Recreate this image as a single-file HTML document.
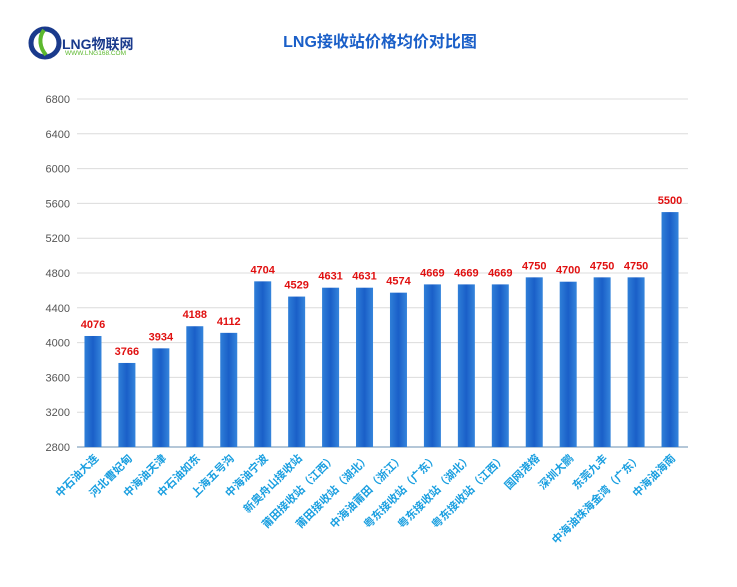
<!DOCTYPE html>
<html><head><meta charset="utf-8"><style>
body{margin:0;background:#fff;font-family:"Liberation Sans","Noto Sans CJK SC",sans-serif}
</style></head><body>
<svg width="737" height="587" xmlns="http://www.w3.org/2000/svg" style="display:block">
<defs>
<linearGradient id="bg" x1="0" x2="1" y1="0" y2="0">
<stop offset="0" stop-color="#2f7fd8"/><stop offset="0.5" stop-color="#1a5fc8"/><stop offset="1" stop-color="#3585dc"/>
</linearGradient>
</defs>
<g>
<circle cx="45" cy="43" r="14" fill="none" stroke="#1a3a8c" stroke-width="5"/>
<path d="M44 30 C38 38 40 48 46 55" stroke="#5cb82e" stroke-width="4" fill="none"/>
<text x="62" y="49" font-size="14" font-weight="bold" fill="#1a3a8c">LNG物联网</text>
<text x="65" y="55" font-size="6.5" fill="#5cb82e">WWW.LNG168.COM</text>
</g>
<text x="380" y="47" text-anchor="middle" font-size="16" font-weight="bold" fill="#1a5fc8">LNG接收站价格均价对比图</text>
<g id="grid"></g><g id="bars"></g><g id="xl"></g>
</svg>
<script>
const categories=["中石油大连","河北曹妃甸","中海油天津","中石油如东","上海五号沟","中海油宁波","新奥舟山接收站","莆田接收站（江西）","莆田接收站（湖北）","中海油莆田（浙江）","粤东接收站（广东）","粤东接收站（湖北）","粤东接收站（江西）","国网港榕","深圳大鹏","东莞九丰","中海油珠海金湾（广东）","中海油海南"];
const values=[4076,3766,3934,4188,4112,4704,4529,4631,4631,4574,4669,4669,4669,4750,4700,4750,4750,5500];
const ticks=[2800,3200,3600,4000,4400,4800,5200,5600,6000,6400,6800];
const NS="http://www.w3.org/2000/svg";
const y0=447,y1=99,vmin=2800,vmax=6800,xL=77,xR=688;
const y=v=>y0-(v-vmin)/(vmax-vmin)*(y0-y1);
const step=(xR-xL)/categories.length;
const x=i=>xL+step*(i+0.5)-1;
function mk(t,a,p){const e=document.createElementNS(NS,t);for(const k in a)e.setAttribute(k,a[k]);p.appendChild(e);return e;}
const g=document.getElementById('grid');
ticks.forEach(t=>{
 const l=mk('line',{x1:xL,x2:xR,y1:y(t),y2:y(t),stroke:t===vmin?'#6a8fb0':'#dcdcdc','stroke-width':1},g);
 
 
 const tx=mk('text',{x:70,y:y(t)+4,'text-anchor':'end','font-size':11,fill:'#555'},g);
 
 
 tx.textContent=t;
});
const b=document.getElementById('bars'),xl=document.getElementById('xl');
values.forEach((v,i)=>{
 const r=mk('rect',{x:x(i)-8.5,y:y(v),width:17,height:y0-y(v),fill:'url(#bg)'},b);
 
 
 const t=mk('text',{x:x(i),y:y(v)-8,'text-anchor':'middle','font-size':11,'font-weight':'bold',fill:'#e01010'},b);
 
 
 t.textContent=v;
 const c=mk('text',{x:x(i)+6,y:y0+12,'text-anchor':'end','font-size':11,'font-weight':'bold',fill:'#1a9fe0',transform:`rotate(-45 ${x(i)+6} ${y0+12})`},xl);
 
 
 c.textContent=categories[i];
});
</script>
</body></html>
